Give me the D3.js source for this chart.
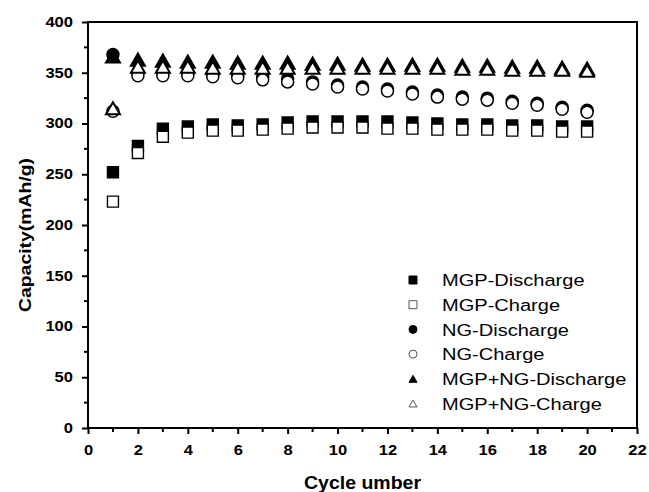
<!doctype html>
<html lang="en">
  <head>
    <meta charset="utf-8">
    <title>Capacity vs cycle</title>
  </head>
  <style type="text/css">
  body {
    margin: 0;
    background-color: #ffffff;
  }
  text {
    font-family: "Liberation Sans", Arial, sans-serif;
  }
  </style>
  <body>
	<script src="https://d3js.org/d3.v7.min.js"></script>
	<script>

  // data
  var cycles = [1,2,3,4,5,6,7,8,9,10,11,12,13,14,15,16,17,18,19,20];
  var mgpDischarge = [252,278,295,297,299,298,299,301,302,302,302,302,301,300,299,299,298,298,297,297];
  var mgpCharge = [223,271,287,291,293,293,294,295,296,296,296,295,295,294,294,294,293,293,292,292];
  var ngDischarge = [368,350,350,349,348,347,346,344,341,338,336,334,331,328,326,325,322,320,316,313];
  var ngCharge = [312,347,347,347,346,345,343,341,339,336,334,332,329,326,324,323,320,318,314,311];
  var mixDischarge = [366,363,362,361,361,360,360,360,359,359,358,358,358,358,357,357,356,356,355,354];
  var mixCharge = [315,356,356,356,355,355,355,355,355,355,355,355,355,355,354,354,353,353,353,352];

  var seriesNames = ["MGP-Discharge","MGP-Charge","NG-Discharge","NG-Charge","MGP+NG-Discharge","MGP+NG-Charge"];
  var seriesValues = [mgpDischarge, mgpCharge, ngDischarge, ngCharge, mixDischarge, mixCharge];
  var seriesShape = ["square","square","circle","circle","triangle","triangle"];
  var seriesFilled = [true,false,true,false,true,false];

  var xTicks = d3.range(0, 23, 2);
  var yTicks = d3.range(0, 401, 50);

  var w = 649;
  var h = 492;
  // plot box (window.top is read-only, so other names)
  var pLeft = 88, pRight = 637, pTop = 22, pBottom = 428;

  var x = d3.scaleLinear().domain([0, 22]).range([pLeft, pRight]);
  var y = d3.scaleLinear().domain([0, 400]).range([pBottom, pTop]);

  var svg = d3.select("body")
    .append("svg")
    .attr("width", w)
    .attr("height", h);

  // marker path, centred on its box
  function shapePath(shape, s) {
    var p = d3.path();
    if (shape == "square") {
      p.rect(-s/2, -s/2, s, s);
    } else if (shape == "circle") {
      p.arc(0, 0, s/2, 0, 2*Math.PI);
    } else {
      var hh = s * 0.87;
      p.moveTo(0, -hh/2);
      p.lineTo(s/2, hh/2);
      p.lineTo(-s/2, hh/2);
      p.closePath();
    }
    return p.toString();
  }

  var sizes = {square: 11, circle: 12, triangle: 14};
  var widths = {square: 1.4, circle: 1.5, triangle: 2};

  // points
  seriesValues.forEach(function(vals, i) {
    var shape = seriesShape[i];
    svg.append("g").selectAll("path")
      .data(vals)
      .enter()
      .append("path")
      .attr("transform", function(d, j) { return "translate(" + x(cycles[j]) + "," + y(d) + ")"; })
      .attr("d", shapePath(shape, sizes[shape]))
      .style("fill", seriesFilled[i] ? "#000" : "#fff")
      .style("stroke", "#000")
      .style("stroke-width", widths[shape]);
  });

  // axes
  var xAxis = d3.axisBottom(x).tickValues(xTicks).tickSize(6).tickPadding(11);
  var yAxis = d3.axisLeft(y).tickValues(yTicks).tickSize(6).tickPadding(9);

  var gx = svg.append("g").attr("transform", "translate(0," + pBottom + ")").call(xAxis);
  var gy = svg.append("g").attr("transform", "translate(" + pLeft + ",0)").call(yAxis);

  // minor ticks
  svg.append("g").selectAll("line")
    .data(d3.range(1, 22, 2))
    .enter().append("line")
    .attr("x1", function(d) { return x(d); })
    .attr("x2", function(d) { return x(d); })
    .attr("y1", pBottom).attr("y2", pBottom + 4)
    .style("stroke", "#000").style("stroke-width", 2);
  svg.append("g").selectAll("line")
    .data(d3.range(25, 400, 50))
    .enter().append("line")
    .attr("y1", function(d) { return y(d); })
    .attr("y2", function(d) { return y(d); })
    .attr("x1", pLeft).attr("x2", pLeft - 4)
    .style("stroke", "#000").style("stroke-width", 2);

  [gx, gy].forEach(function(g) {
    g.select(".domain").remove();
    g.selectAll(".tick line").style("stroke", "#000").style("stroke-width", 2);
    // tick labels are drawn wider in the original
    g.selectAll(".tick text")
      .attr("textLength", function(d) { return String(d).length * 9.2; })
      .attr("lengthAdjust", "spacingAndGlyphs")
      .style("font-family", "'Liberation Sans', Arial, sans-serif")
      .style("font-size", "14px")
      .style("font-weight", "bold")
      .style("fill", "#000");
  });

  // frame
  svg.append("rect")
    .attr("x", pLeft).attr("y", pTop)
    .attr("width", pRight - pLeft).attr("height", pBottom - pTop)
    .style("fill", "none")
    .style("stroke", "#000")
    .style("stroke-width", 2);

  // axis titles
  svg.append("text")
    .attr("x", (pLeft + pRight) / 2)
    .attr("y", 489)
    .attr("text-anchor", "middle")
    .attr("textLength", 117)
    .attr("lengthAdjust", "spacingAndGlyphs")
    .style("font-size", "18px")
    .style("font-weight", "bold")
    .text("Cycle umber");

  svg.append("text")
    .attr("transform", "translate(30.5,235) rotate(-90)")
    .attr("text-anchor", "middle")
    .attr("textLength", 154)
    .attr("lengthAdjust", "spacingAndGlyphs")
    .style("font-size", "17px")
    .style("font-weight", "bold")
    .text("Capacity(mAh/g)");

  // legend
  var legend = svg.append("g").selectAll("g")
    .data(seriesNames)
    .enter().append("g")
    .attr("transform", function(d, i) { return "translate(413," + (280 + i * 24.7) + ")"; });

  legend.append("path")
    .attr("d", function(d, i) { return shapePath(seriesShape[i], 8); })
    .style("fill", function(d, i) { return seriesFilled[i] ? "#000" : "#fff"; })
    .style("stroke", function(d, i) { return seriesFilled[i] ? "#000" : "#555"; })
    .style("stroke-width", 1);

  legend.append("text")
    .attr("transform", "translate(29,0) scale(1.18,1)")
    .attr("dy", "0.36em")
    .style("font-size", "17px")
    .text(function(d) { return d; });

	</script>
  </body>
</html>
